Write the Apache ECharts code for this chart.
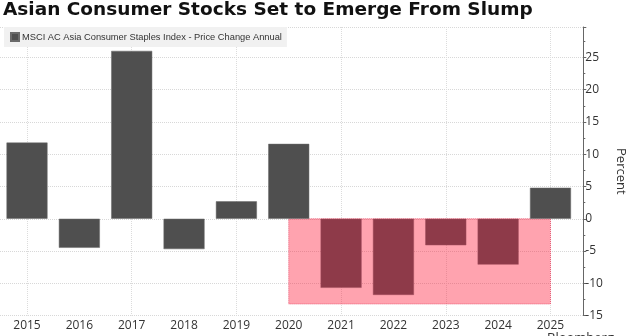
<!DOCTYPE html>
<html><head><meta charset="utf-8">
<script src="https://cdn.jsdelivr.net/npm/echarts@6/dist/echarts.min.js"></script>
<style>html,body{margin:0;padding:0;background:#fff}#c{width:628px;height:336px}</style>
</head><body><div id="c"></div>
<script>
const years = [2015, 2016, 2017, 2018, 2019, 2020, 2021, 2022, 2023, 2024, 2025];
const changes = [11.8, -4.5, 26.0, -4.7, 2.7, 11.6, -10.7, -11.8, -4.1, -7.1, 4.8];
const gridYears = [2015, 2017, 2019, 2021, 2023, 2025];
const slumpStart = 2020, slumpEnd = 2025, slumpLow = -13.2;
const seriesName = 'MSCI AC Asia Consumer Staples Index - Price Change Annual';
const titleText = 'Asian Consumer Stocks Set to Emerge From Slump';

const chart = echarts.init(document.getElementById('c'), null, {renderer: 'canvas'});
const font = 'Open Sans';
const barColor = '#4f4f4f', slumpBarColor = '#8e3a49';
chart.setOption({
  animation: false,
  title: {text: titleText, left: 3, top: 1, padding: 0,
    textStyle: {fontFamily: 'DejaVu Sans', fontWeight: 'bold', fontSize: 18.5, color: '#111'}},
  legend: {left: 4, top: 27, padding: [5, 5, 5, 6], backgroundColor: '#f1f1f1',
    icon: 'rect', itemWidth: 8, itemHeight: 8, itemGap: 2,
    textStyle: {fontFamily: 'Liberation Sans', fontSize: 9.3, color: '#333', padding: [0,0,0,-2]},
    data: [seriesName]},
  grid: {left: 0, right: 44.7, top: 27, bottom: 20.4, outerBoundsMode: 'none', containLabel: false},
  xAxis: {type: 'value', min: 2014.484, max: 2025.627,
    axisLine: {show: false},
    axisTick: {show: false, customValues: gridYears},
    axisLabel: {customValues: years, fontFamily: font, fontSize: 12, color: '#333', margin: 4,
      formatter: v => String(v)},
    splitLine: {show: true, lineStyle: {color: '#dcdcdc', type: 'dotted', width: 1}}},
  yAxis: {type: 'value', position: 'right', min: -15, max: 29.7, interval: 5,
    name: 'Percent', nameLocation: 'middle', nameRotate: -90, nameGap: 30,
    nameTextStyle: {fontFamily: font, fontSize: 13, color: '#333'},
    axisLine: {show: true, lineStyle: {color: '#666'}},
    axisTick: {show: true, length: 3, lineStyle: {color: '#666'}},
    minorTick: {show: true, splitNumber: 2, length: 2, lineStyle: {color: '#666'}},
    axisLabel: {showMaxLabel: false, fontFamily: font, fontSize: 12, color: '#333', margin: 2},
    splitLine: {show: true, lineStyle: {color: '#d8d8d8', type: 'dotted', width: 1}}},
  series: [
    {name: 'slump', type: 'line', data: [], z: 1, silent: true,
      markArea: {silent: true,
        itemStyle: {color: 'rgba(255,25,55,0.4)', borderColor: 'rgba(230,70,100,0.8)', borderWidth: 1, borderType: 'dotted'},
        data: [[{xAxis: slumpStart, yAxis: 0}, {xAxis: slumpEnd, yAxis: slumpLow}]]}},
    {name: seriesName, type: 'bar', barWidth: 41, z: 3,
      itemStyle: {color: barColor, borderColor: '#6a6a6a', borderWidth: 0.5},
      data: years.map((y, i) => {
        const inSlump = y >= slumpStart && y <= slumpEnd && changes[i] < 0;
        return inSlump ? {value: [y, changes[i]], itemStyle: {color: slumpBarColor, borderColor: '#a04c5c'}} : [y, changes[i]];
      })}
  ],
  graphic: [{type: 'text', left: 547, top: 332, style: {text: 'Bloomberg', fontFamily: font, fontSize: 13, fill: '#333'}}]
});
</script></body></html>
